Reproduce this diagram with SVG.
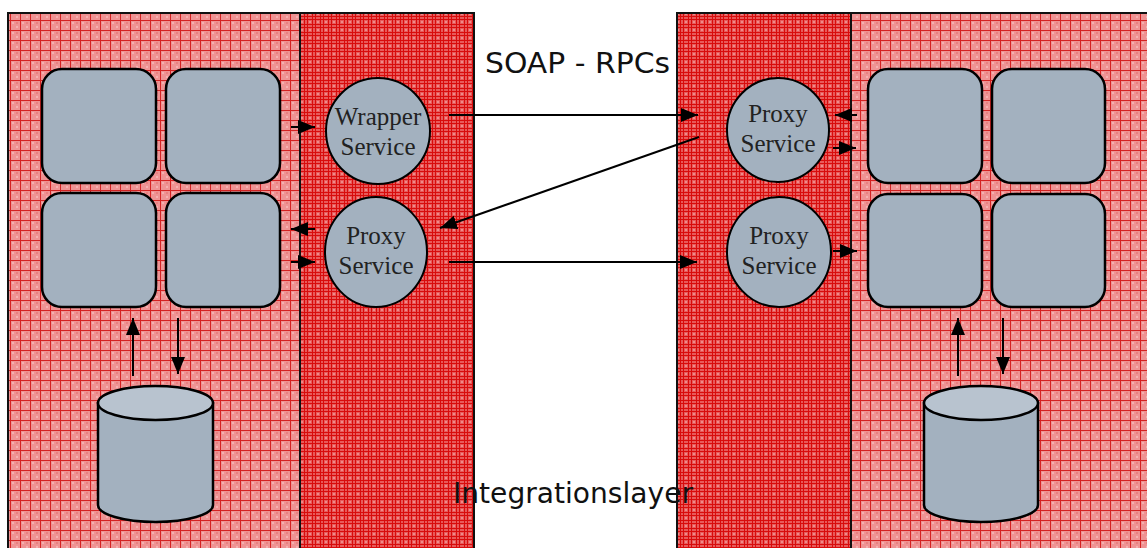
<svg xmlns="http://www.w3.org/2000/svg" width="1147" height="548" viewBox="0 0 1147 548">
  <defs>
    <!-- application layer: pale red with a loose red grid -->
    <pattern id="gridLight" width="10" height="10" patternUnits="userSpaceOnUse">
      <rect width="10" height="10" fill="#ef9393"/>
      <rect x="2" y="2" width="2" height="2" fill="#f5b0b0"/>
      <rect x="6" y="6" width="2" height="2" fill="#f5b0b0"/>
      <rect x="6" y="2" width="2" height="2" fill="#e98080"/>
      <path d="M0,0.5 H10 M0.5,0 V10" stroke="#d42222" stroke-width="1"/>
    </pattern>
    <!-- integration band: saturated red with a dense grid -->
    <pattern id="gridDense" width="8" height="8" patternUnits="userSpaceOnUse">
      <rect width="8" height="8" fill="#e85a5a"/>
      <path d="M0,0.5 H8 M0,3.5 H8 M0.5,0 V8 M3.5,0 V8" stroke="#d80c0c" stroke-width="1"/>
      <rect x="5" y="5" width="2" height="2" fill="#f08a8a"/>
    </pattern>
    <marker id="arrow" markerUnits="userSpaceOnUse" markerWidth="18" markerHeight="15" refX="17" refY="7" orient="auto">
      <path d="M0,0 L17,7 L0,14 z" fill="#000"/>
    </marker>
  </defs>
  <style>
    .zone-light { fill: url(#gridLight); stroke: #111; stroke-width: 2; }
    .zone-dense { fill: url(#gridDense); stroke: #111; stroke-width: 2; }
    .box { fill: #a3b1bf; stroke: #000; stroke-width: 2.5; }
    .svc { fill: #a3b1bf; stroke: #000; stroke-width: 2; }
    .cyl { fill: #a3b1bf; stroke: #000; stroke-width: 2.5; }
    .cyl-top { fill: #b8c3cf; stroke: #000; stroke-width: 2.5; }
    .svc-label { font-family: "Liberation Serif", "DejaVu Serif", serif; font-size: 25px; fill: #222; text-anchor: middle; }
    .caption { font-family: "DejaVu Sans", "Liberation Sans", sans-serif; font-size: 28px; fill: #111; }
    .conn { stroke: #000; stroke-width: 2; fill: none; marker-end: url(#arrow); }
  </style>

  <!-- system zones -->
  <g id="zones">
    <rect class="zone-light" x="8" y="13" width="292" height="545"/>
    <rect class="zone-dense" x="300" y="13" width="174" height="545"/>
    <rect class="zone-dense" x="677" y="13" width="174" height="545"/>
    <rect class="zone-light" x="851" y="13" width="306" height="545"/>
  </g>

  <!-- left system components -->
  <g id="left-box-1"><rect class="box" x="42" y="69" width="114" height="114" rx="20"/></g>
  <g id="left-box-2"><rect class="box" x="166" y="69" width="114" height="114" rx="20"/></g>
  <g id="left-box-3"><rect class="box" x="42" y="193" width="114" height="114" rx="20"/></g>
  <g id="left-box-4"><rect class="box" x="166" y="193" width="114" height="114" rx="20"/></g>
  <g id="left-db">
    <path class="cyl" d="M98,403 V505 A57.5,17 0 0 0 213,505 V403 Z"/>
    <ellipse class="cyl-top" cx="155.5" cy="403" rx="57.5" ry="17"/>
  </g>

  <!-- right system components -->
  <g id="right-box-1"><rect class="box" x="868" y="69" width="114" height="114" rx="20"/></g>
  <g id="right-box-2"><rect class="box" x="992" y="69" width="113" height="114" rx="20"/></g>
  <g id="right-box-3"><rect class="box" x="868" y="194" width="114" height="113" rx="20"/></g>
  <g id="right-box-4"><rect class="box" x="992" y="194" width="113" height="113" rx="20"/></g>
  <g id="right-db">
    <path class="cyl" d="M924,403 V505 A57,17 0 0 0 1038,505 V403 Z"/>
    <ellipse class="cyl-top" cx="981" cy="403" rx="57" ry="17"/>
  </g>

  <!-- integration services -->
  <g id="wrapper-service">
    <ellipse class="svc" cx="378" cy="131" rx="52" ry="53"/>
    <text class="svc-label" x="378" y="125">Wrapper</text>
    <text class="svc-label" x="378" y="155">Service</text>
  </g>
  <g id="proxy-service-left">
    <ellipse class="svc" cx="376" cy="252" rx="51" ry="55"/>
    <text class="svc-label" x="376" y="244">Proxy</text>
    <text class="svc-label" x="376" y="274">Service</text>
  </g>
  <g id="proxy-service-right-top">
    <ellipse class="svc" cx="778" cy="130" rx="51" ry="52"/>
    <text class="svc-label" x="778" y="122">Proxy</text>
    <text class="svc-label" x="778" y="152">Service</text>
  </g>
  <g id="proxy-service-right-bottom">
    <ellipse class="svc" cx="779" cy="252" rx="52" ry="55"/>
    <text class="svc-label" x="779" y="244">Proxy</text>
    <text class="svc-label" x="779" y="274">Service</text>
  </g>

  <!-- captions -->
  <g id="labels">
    <text class="caption" x="485" y="73" textLength="185" lengthAdjust="spacingAndGlyphs">SOAP - RPCs</text>
    <text class="caption" x="453" y="503" textLength="240" lengthAdjust="spacingAndGlyphs">Integrationslayer</text>
  </g>

  <!-- connectors -->
  <g id="connectors">
    <line class="conn" x1="291" y1="127" x2="315" y2="127"/>
    <line class="conn" x1="315" y1="229" x2="291" y2="229"/>
    <line class="conn" x1="291" y1="262" x2="315" y2="262"/>
    <line class="conn" x1="449" y1="115" x2="698" y2="115"/>
    <line class="conn" x1="699" y1="137" x2="440" y2="228"/>
    <line class="conn" x1="449" y1="262" x2="697" y2="262"/>
    <line class="conn" x1="857" y1="115" x2="835" y2="115"/>
    <line class="conn" x1="833" y1="148" x2="856" y2="148"/>
    <line class="conn" x1="833" y1="251" x2="857" y2="251"/>
    <line class="conn" x1="133" y1="376" x2="133" y2="318"/>
    <line class="conn" x1="178" y1="318" x2="178" y2="374"/>
    <line class="conn" x1="958" y1="376" x2="958" y2="318"/>
    <line class="conn" x1="1003" y1="318" x2="1003" y2="374"/>
  </g>
</svg>
